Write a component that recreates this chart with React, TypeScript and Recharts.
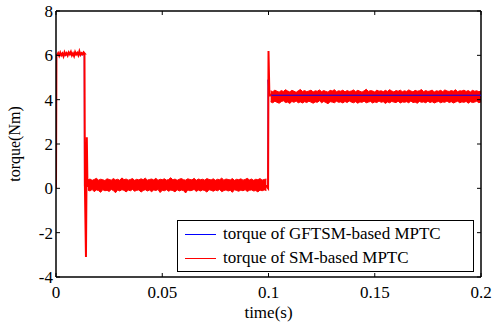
import { Area, ComposedChart, Line, ReferenceLine, XAxis, YAxis } from "recharts";

const X_TICKS = [0, 0.05, 0.1, 0.15, 0.2];
const Y_TICKS = [-4, -2, 0, 2, 4, 6, 8];

// 0 - 0.0135 s, torque around 6 Nm, sampled every 0.5 ms
const RED_HIGH_START = 0.0005;
const RED_HIGH = [
  6.02, 6.1, 5.98, 6.12, 6.0, 6.08, 5.96, 6.14, 6.03, 6.1, 5.99, 6.13, 6.05, 6.16,
  6.0, 6.09, 5.97, 6.15, 6.04, 6.11, 6.0, 6.18, 6.02, 6.1, 6.05, 6.14, 6.08,
];
// 0.015 - 0.099 s, ripple band (upper / lower envelope) around 0.1 Nm, every 1 ms
const BAND_ZERO_START = 0.015;
const BAND_ZERO_HI = [
  0.38, 0.42, 0.36, 0.4, 0.45, 0.37, 0.41, 0.39, 0.35, 0.43,
  0.4, 0.37, 0.44, 0.38, 0.41, 0.36, 0.47, 0.39, 0.42, 0.37,
  0.4, 0.44, 0.36, 0.41, 0.38, 0.43, 0.39, 0.46, 0.37, 0.4,
  0.42, 0.38, 0.45, 0.36, 0.41, 0.39, 0.43, 0.37, 0.4, 0.48,
  0.38, 0.42, 0.36, 0.41, 0.44, 0.39, 0.37, 0.43, 0.4, 0.38,
  0.45, 0.36, 0.42, 0.39, 0.41, 0.37, 0.44, 0.4, 0.38, 0.43,
  0.36, 0.41, 0.39, 0.46, 0.37, 0.42, 0.4, 0.38, 0.44, 0.36,
  0.41, 0.39, 0.43, 0.37, 0.4, 0.45, 0.38, 0.42, 0.36, 0.41,
  0.39, 0.44, 0.37, 0.4, 0.42,
];
const BAND_ZERO_LO = [
  -0.08, -0.12, -0.05, -0.15, -0.07, -0.1, -0.18, -0.06, -0.11, -0.09,
  -0.14, -0.05, -0.1, -0.2, -0.07, -0.12, -0.06, -0.09, -0.16, -0.08,
  -0.11, -0.05, -0.13, -0.09, -0.07, -0.17, -0.1, -0.06, -0.12, -0.08,
  -0.15, -0.07, -0.1, -0.05, -0.19, -0.09, -0.11, -0.06, -0.13, -0.08,
  -0.1, -0.16, -0.06, -0.12, -0.08, -0.1, -0.21, -0.07, -0.11, -0.09,
  -0.05, -0.14, -0.08, -0.12, -0.07, -0.1, -0.17, -0.06, -0.09, -0.13,
  -0.08, -0.11, -0.05, -0.15, -0.1, -0.07, -0.12, -0.09, -0.18, -0.06,
  -0.1, -0.13, -0.08, -0.11, -0.06, -0.14, -0.09, -0.07, -0.12, -0.1,
  -0.16, -0.08, -0.11, -0.07, -0.1,
];
// 0.101 - 0.2 s, ripple band around 4.15 Nm, every 1 ms
const BAND_FOUR_START = 0.101;
const BAND_FOUR_HI = [
  4.4, 4.36, 4.43, 4.38, 4.34, 4.41, 4.37, 4.45, 4.39, 4.35,
  4.42, 4.38, 4.33, 4.4, 4.46, 4.37, 4.41, 4.36, 4.39, 4.43,
  4.35, 4.4, 4.38, 4.44, 4.36, 4.41, 4.37, 4.34, 4.42, 4.39,
  4.45, 4.36, 4.4, 4.38, 4.43, 4.35, 4.41, 4.37, 4.39, 4.44,
  4.36, 4.42, 4.38, 4.34, 4.4, 4.47, 4.37, 4.41, 4.39, 4.35,
  4.43, 4.38, 4.4, 4.36, 4.42, 4.37, 4.45, 4.39, 4.35, 4.41,
  4.38, 4.43, 4.36, 4.4, 4.37, 4.44, 4.39, 4.35, 4.42, 4.38,
  4.4, 4.46, 4.36, 4.41, 4.37, 4.39, 4.43, 4.35, 4.4, 4.38,
  4.42, 4.36, 4.44, 4.39, 4.37, 4.41, 4.38, 4.45, 4.36, 4.4,
  4.39, 4.43, 4.37, 4.41, 4.35, 4.42, 4.38, 4.4, 4.36, 4.39,
];
const BAND_FOUR_LO = [
  3.9, 3.86, 3.93, 3.88, 3.84, 3.91, 3.95, 3.87, 3.89, 3.83,
  3.92, 3.88, 3.94, 3.86, 3.9, 3.85, 3.91, 3.87, 3.93, 3.89,
  3.84, 3.9, 3.88, 3.95, 3.86, 3.92, 3.87, 3.82, 3.91, 3.89,
  3.86, 3.93, 3.88, 3.9, 3.85, 3.92, 3.87, 3.94, 3.89, 3.86,
  3.91, 3.84, 3.9, 3.88, 3.93, 3.86, 3.89, 3.92, 3.85, 3.9,
  3.87, 3.94, 3.88, 3.91, 3.83, 3.9, 3.86, 3.92, 3.89, 3.87,
  3.93, 3.85, 3.9, 3.88, 3.91, 3.86, 3.94, 3.87, 3.89, 3.84,
  3.92, 3.88, 3.9, 3.86, 3.93, 3.87, 3.91, 3.85, 3.89, 3.92,
  3.86, 3.9, 3.88, 3.94, 3.87, 3.91, 3.85, 3.89, 3.93, 3.86,
  3.9, 3.88, 3.92, 3.84, 3.91, 3.87, 3.89, 3.93, 3.86, 3.9,
];
// red transients [time, torque]
const RED_START: [number, number][] = [[0, 0], [0.0002, 6.0]];
const RED_DROP: [number, number][] = [
  [0.0134, 6.08], [0.0136, 0.1], [0.0141, -3.1], [0.0145, 2.3], [0.0148, 0.1], [0.015, 0.1],
];
const RED_RISE: [number, number][] = [[0.099, 0.1], [0.0998, 0.0], [0.1, 6.2], [0.1004, 4.3], [0.101, 4.15]];

const BLUE_POINTS: [number, number][] = [
  [0, 0], [0.0002, 6.0], [0.002, 6.05], [0.004, 5.98], [0.006, 6.06], [0.008, 6.0],
  [0.01, 6.07], [0.012, 6.02], [0.0133, 6.05], [0.0134, 0.1], [0.05, 0.1],
  [0.0997, 0.1], [0.0998, 4.9], [0.1003, 4.2], [0.2, 4.2],
];

const SAMPLE_STEP_HIGH = 0.0005;
const SAMPLE_STEP = 0.001;

const PLOT_TOP = 11;
const PLOT_RIGHT = 481;
const RED = "#ff0000";
const BLUE = "#0000ff";
const FONT = "Liberation Serif";

function toRows(pairs: [number, number][]) {
  return pairs.map(([t, v]) => ({ t, v }));
}

function sampled(start: number, step: number, values: number[]) {
  return values.map((v, i) => ({ t: +(start + i * step).toFixed(5), v }));
}

function band(start: number, step: number, hi: number[], lo: number[]) {
  return hi.map((h, i) => ({ t: +(start + i * step).toFixed(5), v: [lo[i], h] }));
}

const redData = [
  ...toRows(RED_START),
  ...sampled(RED_HIGH_START, SAMPLE_STEP_HIGH, RED_HIGH),
  ...toRows(RED_DROP),
  ...toRows(RED_RISE),
];
const blueData = toRows(BLUE_POINTS);
const zeroBand = band(BAND_ZERO_START, SAMPLE_STEP, BAND_ZERO_HI, BAND_ZERO_LO);
const fourBand = band(BAND_FOUR_START, SAMPLE_STEP, BAND_FOUR_HI, BAND_FOUR_LO);

function XTick(props: any) {
  const { x, y, payload } = props;
  return (
    <g>
      <line x1={x} y1={y} x2={x} y2={y - 4} stroke="#000" />
      <line x1={x} y1={PLOT_TOP} x2={x} y2={PLOT_TOP + 4} stroke="#000" />
      <text x={x} y={y + 21} textAnchor="middle" fontFamily={FONT} fontSize={17} fill="#000">
        {payload.value}
      </text>
    </g>
  );
}

function YTick(props: any) {
  const { x, y, payload } = props;
  return (
    <g>
      <line x1={x} y1={y} x2={x + 4} y2={y} stroke="#000" />
      <line x1={PLOT_RIGHT} y1={y} x2={PLOT_RIGHT - 4} y2={y} stroke="#000" />
      <text x={x - 3} y={y + 6} textAnchor="end" fontFamily={FONT} fontSize={17} fill="#000">
        {payload.value}
      </text>
    </g>
  );
}

function LegendBox() {
  const rows = [
    { color: BLUE, label: "torque of GFTSM-based MPTC" },
    { color: RED, label: "torque of SM-based MPTC" },
  ];
  return (
    <div
      style={{
        position: "absolute",
        left: 177,
        top: 220,
        width: 297,
        height: 52,
        border: "1.5px solid #000",
        background: "#fff",
        boxSizing: "border-box",
        fontFamily: FONT,
        fontSize: 17,
        color: "#000",
        paddingTop: 1,
      }}
    >
      {rows.map((r) => (
        <div key={r.label} style={{ display: "flex", alignItems: "center", height: 24, whiteSpace: "nowrap" }}>
          <span style={{ display: "inline-block", width: 31, height: 0, borderTop: `1px solid ${r.color}`, marginLeft: 7, marginRight: 7 }} />
          <span>{r.label}</span>
        </div>
      ))}
    </div>
  );
}

export default function App() {
  return (
    <div style={{ position: "absolute", left: 0, top: 0, width: 492, height: 322, background: "#fff" }}>
      <ComposedChart width={492} height={322} margin={{ top: PLOT_TOP, right: 11, bottom: 0, left: 0 }}>
        <XAxis
          dataKey="t"
          type="number"
          domain={[0, 0.2]}
          ticks={X_TICKS}
          allowDataOverflow
          height={45}
          tickSize={0}
          tickMargin={0}
          tickLine={false}
          axisLine={{ stroke: "#000", strokeWidth: 1.5 }}
          tick={XTick}
          label={{ value: "time(s)", position: "insideBottom", offset: 4, fontFamily: FONT, fontSize: 17, fill: "#000" }}
        />
        <YAxis
          type="number"
          domain={[-4, 8]}
          ticks={Y_TICKS}
          width={56}
          tickSize={0}
          tickMargin={0}
          tickLine={false}
          axisLine={{ stroke: "#000", strokeWidth: 1.5 }}
          tick={YTick}
          label={{ value: "torque(Nm)", angle: -90, position: "insideLeft", offset: 14, fontFamily: FONT, fontSize: 16, fill: "#000", style: { textAnchor: "middle" } }}
        />
        <ReferenceLine y={8} stroke="#000" strokeWidth={1.5} />
        <ReferenceLine x={0.2} stroke="#000" strokeWidth={1.5} />
        <Line data={blueData} dataKey="v" stroke={BLUE} strokeWidth={1} dot={false} isAnimationActive={false} />
        <Line data={redData} dataKey="v" stroke={RED} strokeWidth={2} dot={false} isAnimationActive={false} />
        <Area data={zeroBand} dataKey="v" stroke={RED} strokeWidth={1} fill={RED} fillOpacity={1} dot={false} isAnimationActive={false} />
        <Area data={fourBand} dataKey="v" stroke={RED} strokeWidth={1} fill={RED} fillOpacity={1} dot={false} isAnimationActive={false} />
      </ComposedChart>
      <LegendBox />
    </div>
  );
}
